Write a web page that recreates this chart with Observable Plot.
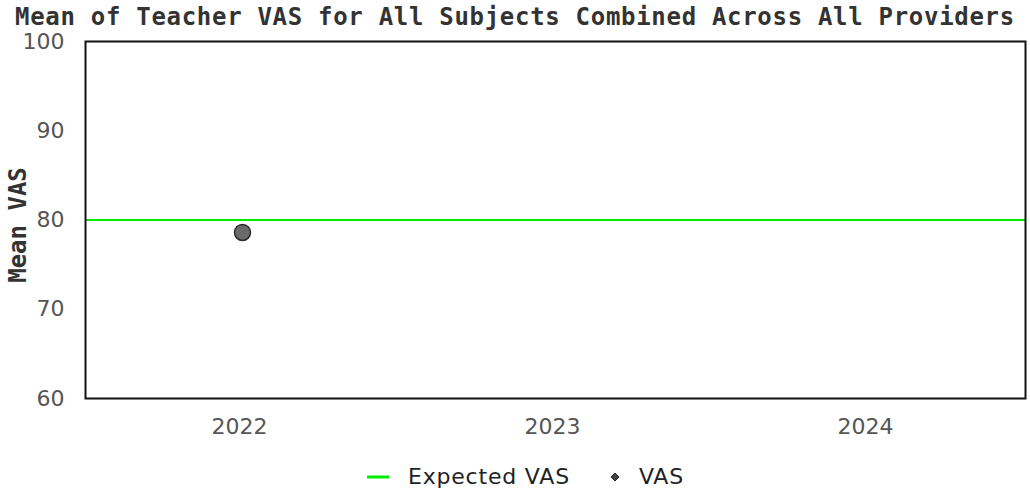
<!DOCTYPE html>
<html>
<head>
<meta charset="utf-8">
<script src="https://cdn.jsdelivr.net/npm/d3@7"></script>
<script src="https://cdn.jsdelivr.net/npm/@observablehq/plot@0.6"></script>
<style>
  html, body { margin: 0; padding: 0; background: #fff; width: 1030px; height: 489px; overflow: hidden; }
  #title { height: 30px; padding-top: 4px; box-sizing: border-box; line-height: 26px; font-family: "DejaVu Sans Mono", monospace; font-weight: bold; font-size: 24px; letter-spacing: 0.7px; color: #333; text-align: center; white-space: nowrap; }
  #legend { display: flex; align-items: center; height: 39px; margin-top: 7px; font-family: "DejaVu Sans", sans-serif; font-size: 22px; letter-spacing: 0.8px; color: #222; padding-left: 367px; }
  #legend .item { display: flex; align-items: center; }
</style>
</head>
<body>
<div id="title">Mean of Teacher VAS for All Subjects Combined Across All Providers</div>
<div id="chart"></div>
<div id="legend">
  <div class="item"><svg width="22" height="10"><line x1="0" x2="22" y1="5" y2="5" stroke="#00ee00" stroke-width="3"/></svg><span style="margin-left:19px">Expected VAS</span></div>
  <div class="item" style="margin-left:40px"><svg width="10" height="10"><path d="M5,1 L9,5 L5,9 L1,5 Z" fill="#444" stroke="#222" stroke-width="1"/></svg><span style="margin-left:19px">VAS</span></div>
</div>
<script>
const years = ["2022", "2023", "2024"];
const vasYears = ["2022"];
const vasValues = [78.6];
const expectedVAS = [80];
const yTicks = [60, 70, 80, 90, 100];
const yLabel = "Mean VAS";

const vasData = vasYears.map((yr, i) => ({year: yr, value: vasValues[i]}));

const chart = Plot.plot({
  width: 1030,
  height: 420,
  marginLeft: 85,
  marginRight: 5,
  marginTop: 11,
  marginBottom: 52,
  style: {fontFamily: "DejaVu Sans, sans-serif", fontSize: "22px", color: "#555", background: "#fff"},
  x: {type: "point", domain: years, padding: 0.5, label: null},
  y: {domain: [60, 100], ticks: yTicks, label: null},
  marks: [
    Plot.axisX({tickSize: 0, tickPadding: 20, dx: -3, fill: "#555", fontSize: 22, label: null}),
    Plot.axisY({ticks: yTicks, tickSize: 0, tickPadding: 21, fill: "#555", fontSize: 22, label: null}),
    Plot.ruleY(expectedVAS, {stroke: "#00ee00", strokeWidth: 2}),
    Plot.dot(vasData, {x: "year", y: "value", r: 8, fill: "#6a6a6a", stroke: "#2a2a2a", strokeWidth: 1.5}),
    Plot.frame({stroke: "#111", strokeWidth: 2}),
    Plot.text([yLabel], {frameAnchor: "left", textAnchor: "middle", dx: -67, dy: 5, rotate: -90, fontFamily: "DejaVu Sans Mono, monospace", fontWeight: "bold", fontSize: 24, fill: "#333", letterSpacing: 0.6})
  ]
});
document.getElementById("chart").appendChild(chart);
</script>
</body>
</html>
